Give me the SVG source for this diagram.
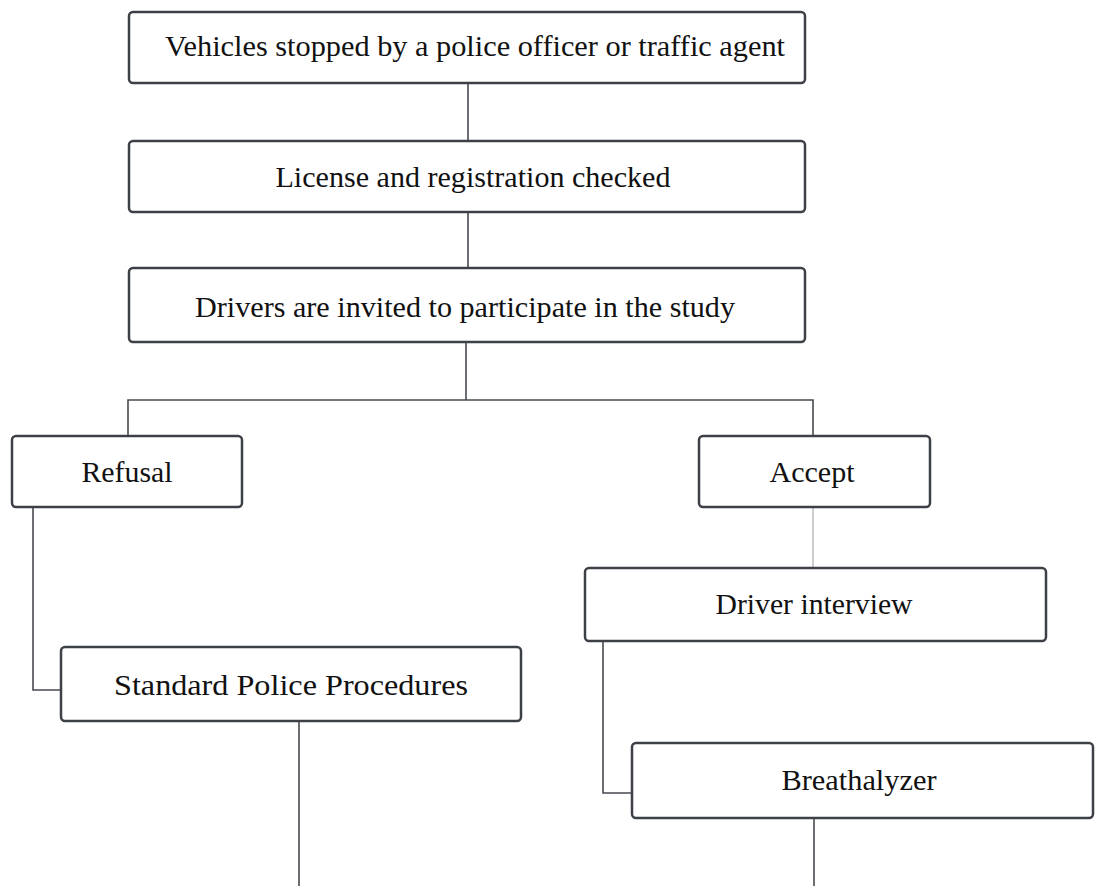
<svg xmlns="http://www.w3.org/2000/svg" width="1099" height="886" viewBox="0 0 1099 886">
<style>
.box{fill:#fff;stroke:#3d4147;stroke-width:2.5}
.ln{fill:none;stroke:#464a50;stroke-width:1.6}
.lt{fill:none;stroke:#9a9a9a;stroke-width:1}
text{font-family:"Liberation Serif","Times New Roman",serif;font-size:30px;fill:#111;text-anchor:middle}
</style>
<rect width="1099" height="886" fill="#fff"/>
<g id="connectors">
<path class="ln" d="M468 83V141"/>
<path class="ln" d="M468 212V268"/>
<path class="ln" d="M466 342V400M128 436V400H813V436"/>
<path class="lt" d="M813 507V568"/>
<path class="ln" d="M33 507V690H61"/>
<path class="ln" d="M603 641V793H632"/>
<path class="ln" d="M299 721V886"/>
<path class="ln" d="M814 818V886"/>
</g>
<g id="n1"><rect class="box" x="129" y="12" width="676" height="71" rx="4"/><text x="475" y="56" textLength="620" lengthAdjust="spacingAndGlyphs">Vehicles stopped by a police officer or traffic agent</text></g>
<g id="n2"><rect class="box" x="129" y="141" width="676" height="71" rx="4"/><text x="473" y="187" textLength="395" lengthAdjust="spacingAndGlyphs">License and registration checked</text></g>
<g id="n3"><rect class="box" x="129" y="268" width="676" height="74" rx="4"/><text x="465" y="317" textLength="540" lengthAdjust="spacingAndGlyphs">Drivers are invited to participate in the study</text></g>
<g id="n4"><rect class="box" x="12" y="436" width="230" height="71" rx="4"/><text x="127" y="482" textLength="91" lengthAdjust="spacingAndGlyphs">Refusal</text></g>
<g id="n5"><rect class="box" x="699" y="436" width="231" height="71" rx="4"/><text x="812" y="482" textLength="85" lengthAdjust="spacingAndGlyphs">Accept</text></g>
<g id="n6"><rect class="box" x="585" y="568" width="461" height="73" rx="4"/><text x="814" y="614" textLength="197" lengthAdjust="spacingAndGlyphs">Driver interview</text></g>
<g id="n7"><rect class="box" x="61" y="647" width="460" height="74" rx="4"/><text x="291" y="695" textLength="354" lengthAdjust="spacingAndGlyphs">Standard Police Procedures</text></g>
<g id="n8"><rect class="box" x="632" y="743" width="461" height="75" rx="4"/><text x="859" y="790" textLength="155" lengthAdjust="spacingAndGlyphs">Breathalyzer</text></g>
</svg>
